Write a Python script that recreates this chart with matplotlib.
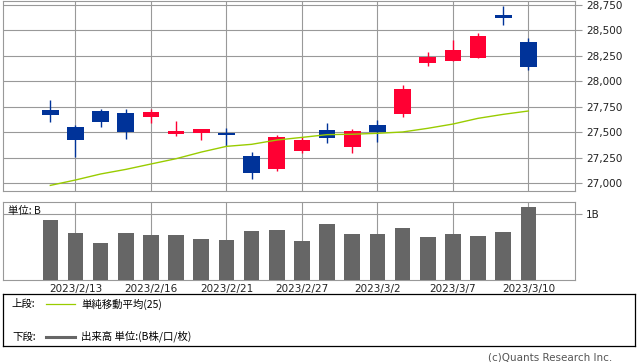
import numpy as np
import matplotlib

matplotlib.use("Agg")
import matplotlib.pyplot as plt
from matplotlib.lines import Line2D

plt.rcParams["font.family"] = ["Noto Sans CJK JP", "DejaVu Sans"]

# daily OHLC, 25-day SMA and volume (billions)
dates = ["2023/2/10", "2023/2/13", "2023/2/14", "2023/2/15", "2023/2/16",
         "2023/2/17", "2023/2/20", "2023/2/21", "2023/2/22", "2023/2/24",
         "2023/2/27", "2023/2/28", "2023/3/1", "2023/3/2", "2023/3/3",
         "2023/3/6", "2023/3/7", "2023/3/8", "2023/3/9", "2023/3/10"]
opens = [27720, 27553, 27710, 27690, 27654, 27487, 27497, 27494, 27268, 27144,
         27321, 27523, 27360, 27572, 27684, 28184, 28204, 28233, 28652, 28387]
highs = [27818, 27569, 27729, 27729, 27729, 27612, 27533, 27543, 27307, 27474,
         27458, 27592, 27533, 27622, 27965, 28289, 28407, 28475, 28740, 28423]
lows = [27602, 27262, 27556, 27438, 27595, 27468, 27429, 27366, 27046, 27124,
        27294, 27399, 27301, 27409, 27654, 28155, 28204, 28233, 28557, 28112]
closes = [27671, 27427, 27603, 27502, 27696, 27513, 27532, 27473, 27104, 27453,
          27424, 27446, 27517, 27499, 27927, 28238, 28309, 28444, 28623, 28144]
ma25 = [26980, 27033, 27092, 27137, 27190, 27242, 27307, 27363, 27383, 27425,
        27451, 27478, 27482, 27491, 27504, 27540, 27582, 27638, 27677, 27710]
volume = [0.91, 0.71, 0.57, 0.72, 0.69, 0.69, 0.63, 0.615, 0.75, 0.77,
          0.60, 0.86, 0.70, 0.70, 0.79, 0.65, 0.70, 0.67, 0.73, 1.11]
tick_idx = [1, 4, 7, 10, 13, 16, 19]
price_ticks = [27000, 27250, 27500, 27750, 28000, 28250, 28500, 28750]

UP = "#ff0033"
DOWN = "#003399"
GRID = "#999999"
x = np.arange(len(dates))

fig = plt.figure(figsize=(6.38, 3.62), dpi=100)
W, H = 638, 362


def box(l, t, r, b):
    return [l / W, 1 - b / H, (r - l) / W, (b - t) / H]


ax = fig.add_axes(box(3, 0.7, 574.7, 190.7))
axv = fig.add_axes(box(3, 201.7, 574.7, 280))

for a in (ax, axv):
    a.set_xlim(-1.88, 20.84)
    a.set_xticks(tick_idx)
    a.grid(True, color=GRID, lw=0.8)
    a.set_axisbelow(True)
    for s in a.spines.values():
        s.set_color(GRID)
        s.set_linewidth(0.8)
    a.yaxis.tick_right()
    a.tick_params(axis="y", length=5, color=GRID, width=0.8, pad=3,
                  labelsize=7.5, labelcolor="#222222")
    a.tick_params(axis="x", length=0)

# candles
o = np.array(opens)
c = np.array(closes)
cols = [UP if cc >= oo else DOWN for oo, cc in zip(o, c)]
ax.vlines(x, lows, highs, colors=cols, lw=1.0, zorder=3)
ax.bar(x, np.maximum(np.abs(c - o), 8), bottom=np.minimum(o, c), width=0.66,
       color=cols, zorder=4)
ax.plot(x, ma25, color="#99cc00", lw=1.0, zorder=5)
ax.set_ylim(26928, 28792)
ax.set_yticks(price_ticks)
ax.set_yticklabels([f"{p:,}" for p in price_ticks], family="DejaVu Sans")
ax.set_xticklabels([])

# volume
axv.bar(x, volume, width=0.62, color="#666666", zorder=3)
axv.set_ylim(0, 1.195)
axv.set_yticks([1.0])
axv.set_yticklabels(["1B"], family="DejaVu Sans")
axv.set_xticklabels([dates[i] for i in tick_idx], family="DejaVu Sans",
                    fontsize=7.5, color="#222222")
axv.tick_params(axis="x", pad=3)
axv.text(0.008, 0.95, "単位: B", transform=axv.transAxes, fontsize=7.5,
         va="top", ha="left", color="#111111")

# legend box
lg = fig.add_axes(box(3, 294, 634.7, 345.7))
lg.set_xlim(0, W)
lg.set_ylim(345.7, 294)
lg.set_xticks([])
lg.set_yticks([])
for s in lg.spines.values():
    s.set_color("black")
    s.set_linewidth(0.9)
lg.text(9, 304, "上段:", fontsize=7.5, va="center", ha="left")
lg.add_line(Line2D([43, 73], [304, 304], color="#99cc00", lw=0.9))
lg.text(79, 304, "単純移動平均(25)", fontsize=7.5, va="center", ha="left")
lg.text(9, 336.5, "下段:", fontsize=7.5, va="center", ha="left")
lg.add_line(Line2D([43, 73], [336.5, 336.5], color="#666666", lw=2.2))
lg.text(79, 336.5, "出来高 単位:(B株/口/枚)", fontsize=7.5, va="center", ha="left")

fig.text(612 / W, 1 - 357.5 / H, "(c)Quants Research Inc.", fontsize=7.5,
         ha="right", va="center", color="#555555", family="DejaVu Sans")

fig.savefig("out.png", dpi=100)
